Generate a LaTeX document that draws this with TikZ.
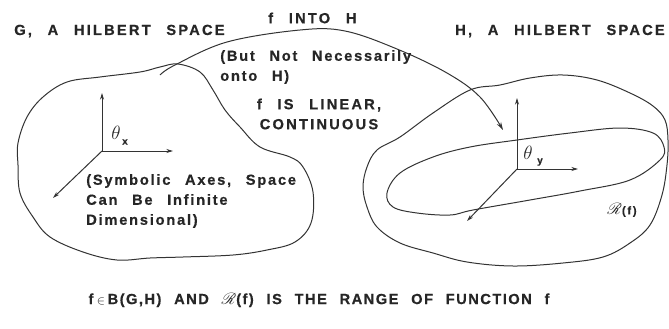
\documentclass[tikz,border=0pt]{standalone}
\usepackage{fontspec}
\usepackage{mathrsfs}
\usetikzlibrary{arrows.meta}
\newfontfamily\lbl[LetterSpace=15, WordSpace=2.5, FakeBold=0.5]{Liberation Sans Bold}
\newfontfamily\lblm[LetterSpace=12, WordSpace=2.5, FakeBold=0.5]{Liberation Sans Bold}
\newfontfamily\lblb[LetterSpace=10, WordSpace=2.3, FakeBold=0.5]{Liberation Sans Bold}
\definecolor{ink}{HTML}{262626}
\definecolor{linec}{HTML}{333333}
\tikzset{
  lab/.style={text=ink, inner sep=0pt, font=\lbl\fontsize{11}{15}\selectfont},
  labm/.style={text=ink, inner sep=0pt, font=\lblm\fontsize{11}{15}\selectfont},
  labb/.style={text=ink, inner sep=0pt, font=\lblb\fontsize{11}{15}\selectfont},
  outline/.style={draw=linec, line width=0.75pt},
  axis/.style={draw=linec, line width=0.75pt, -{Stealth[length=5pt,width=3pt]}},
  maparrow/.style={draw=linec, line width=0.75pt, -{Stealth[length=6pt,width=3.5pt]}},
}
\begin{document}
\begin{tikzpicture}[x=0.75pt,y=-0.75pt]
\useasboundingbox (0,0) rectangle (669,329);
% G blob
\draw[outline] plot[smooth cycle, tension=0.6] coordinates {
 (18,165) (18,143) (27,117) (43,97) (67,82) (100,77) (140,72) (160,67) (178,64)
 (200,72) (213,90) (225,110) (240,127) (260,147) (290,157) (303,167) (313,192)
 (311,223) (295,242) (267,250) (233,255) (183,257) (150,258) (117,260) (83,252)
 (50,237) (33,217) (20,193)};
% H blob
\draw[outline] plot[smooth cycle, tension=0.6] coordinates {
 (363,187) (367,167) (377,150) (400,137) (433,113) (470,90) (500,85) (530,78)
 (563,75) (597,80) (630,93) (653,106) (665,120) (668,140) (667,165) (662,195)
 (650,225) (630,243) (603,257) (563,263) (513,266) (467,262) (433,253) (400,243)
 (377,227) (367,207)};
% range ellipse
\draw[outline] plot[smooth cycle, tension=0.6] coordinates {
 (387,193) (393,207) (417,213) (450,215) (473,210) (530,200) (580,191) (630,180)
 (660,160) (664,147) (653,133) (620,128) (570,133) (517,140) (470,147) (433,157)
 (400,173)};
% axes G
\coordinate (ox) at (102,151);
\coordinate (oxu) at (102,93);
\coordinate (oxr) at (173,151);
\coordinate (oxd) at (53,198);
\draw[axis] (ox) -- (oxu);
\draw[axis] (ox) -- (oxr);
\draw[axis] (ox) -- (oxd);
% axes H
\coordinate (oy) at (517,169);
\coordinate (oyu) at (517,98);
\coordinate (oyr) at (578,169);
\coordinate (oyd) at (467,221);
\draw[axis] (oy) -- (oyu);
\draw[axis] (oy) -- (oyr);
\draw[axis] (oy) -- (oyd);
% mapping arrow
\coordinate (fs) at (160,75);
\coordinate (fe) at (503,130);
\draw[maparrow] plot[smooth, tension=0.6] coordinates {(fs) (175,65) (227,42) (300,30) (345,31) (397,49) (447,73) (480,97) (fe)};
% labels
\node[lab, anchor=west] (gl) at (14,31) {G, A HILBERT SPACE};
\node[lab, anchor=west] (hl) at (455,31) {H, A HILBERT SPACE};
\node[lab, anchor=west] (fl) at (268,18) {f INTO H};
\node[labm, anchor=west, align=left] (bn) at (220,67) {(But Not Necessarily\\onto H)};
\node[lab, align=center] (lin) at (319,114) {f IS LINEAR,\\CONTINUOUS};
\node[labm, anchor=west, align=left] (sym) at (86,201) {(Symbolic Axes, Space\\Can Be Infinite\\Dimensional)};
\node[labb] (bot) at (319,300) {f\hspace{2.5pt}{\fontsize{9}{9}\selectfont$\in$}\hspace{2pt}B(G,H) AND {\fontsize{12}{12}\selectfont$\mathscr{R}$}(f) IS THE RANGE OF FUNCTION f};
\node[text=ink, inner sep=0pt] (tx) at (116,133) {\fontsize{15}{15}\selectfont$\theta$};
\node[text=ink, inner sep=0pt, font=\lbl\fontsize{7.5}{8}\selectfont] (txs) at (125,142) {x};
\node[text=ink, inner sep=0pt] (ty) at (528,153) {\fontsize{15}{15}\selectfont$\theta$};
\node[text=ink, inner sep=0pt, font=\lbl\fontsize{7.5}{8}\selectfont] (tys) at (540,162) {y};
\node[text=ink, inner sep=0pt] (rf) at (622,210) {\fontsize{12}{12}\selectfont$\mathscr{R}$\lbl\fontsize{8.5}{9}\selectfont(f)};
\end{tikzpicture}
\end{document}
